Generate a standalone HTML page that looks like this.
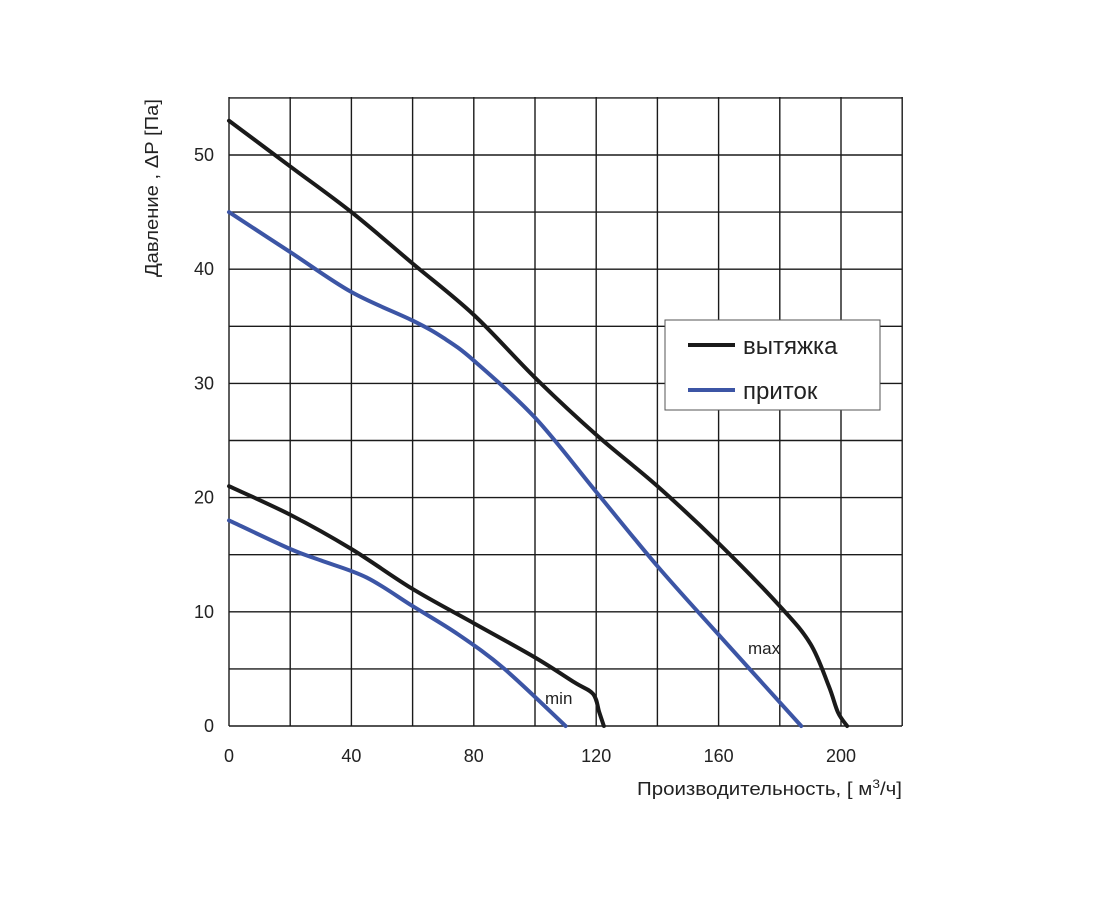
<!DOCTYPE html>
<html><head><meta charset="utf-8"><style>
html,body{margin:0;padding:0;background:#fff;}
svg text{font-family:"Liberation Sans",sans-serif;fill:#222;}
</style></head><body>
<svg id="s" width="1100" height="900" viewBox="0 0 1100 900" xmlns="http://www.w3.org/2000/svg">
<g id="grid" stroke="#1a1a1a" stroke-width="1.4" fill="none"></g>
<g id="curves" fill="none" stroke-width="4" stroke-linejoin="round" stroke-linecap="round"></g>
<g font-size="18" text-anchor="end" id="yl"></g>
<g font-size="18" text-anchor="middle" id="xl"></g>
<text x="0" y="0" font-size="18" transform="translate(158,188) rotate(-90)" text-anchor="middle" textLength="178" lengthAdjust="spacingAndGlyphs">Давление , ΔP [Па]</text>
<text x="637" y="795" font-size="18" textLength="265" lengthAdjust="spacingAndGlyphs">Производительность, [ м<tspan dy="-7" font-size="12">3</tspan><tspan dy="7">/ч]</tspan></text>
<text x="545" y="704" font-size="17">min</text>
<text x="748" y="654" font-size="17">max</text>
<rect x="665" y="320" width="215" height="90" fill="#fff" stroke="#555" stroke-width="1"/>
<line x1="688" y1="345" x2="735" y2="345" stroke="#1a1a1a" stroke-width="4"/>
<line x1="688" y1="390" x2="735" y2="390" stroke="#3c55a5" stroke-width="4"/>
<text x="743" y="354" font-size="24">вытяжка</text>
<text x="743" y="399" font-size="24">приток</text>
</svg>
<script>
var X=function(v){return 229+3.06*v},Y=function(p){return 726-11.42*p};
var g=document.getElementById('grid'),h='';
for(var i=0;i<=11;i++){var x=229+i*61.2;h+='<line x1="'+x+'" y1="97" x2="'+x+'" y2="726"/>';}
for(var j=0;j<=11;j++){var y=726-j*57.1;h+='<line x1="229" y1="'+y+'" x2="902" y2="'+y+'"/>';}
g.innerHTML=h;
var yl='';for(var k=0;k<=5;k++)yl+='<text x="214" y="'+(Y(k*10)+6)+'">'+(k*10)+'</text>';
document.getElementById('yl').innerHTML=yl;
var xl='';for(var k=0;k<=5;k++)xl+='<text x="'+X(k*40)+'" y="762">'+(k*40)+'</text>';
document.getElementById('xl').innerHTML=xl;
function path(pts){var p=pts.map(function(a){return[X(a[0]),Y(a[1])]});var d='M'+p[0][0]+','+p[0][1];
for(var i=0;i<p.length-1;i++){var p0=p[i-1]||p[i],p1=p[i],p2=p[i+1],p3=p[i+2]||p2;
d+=' C'+(p1[0]+(p2[0]-p0[0])/6)+','+(p1[1]+(p2[1]-p0[1])/6)+' '+(p2[0]-(p3[0]-p1[0])/6)+','+(p2[1]-(p3[1]-p1[1])/6)+' '+p2[0]+','+p2[1];}return d;}
var C=[["#1a1a1a",[[0,53],[20,49],[40,45],[60,40.5],[80,36],[100,30.5],[120,25.5],[140,21],[160,16],[180,10.5],[190,7.2],[196,3.5],[199,1.2],[202,0]]],
["#3c55a5",[[0,45],[20,41.5],[40,38],[60,35.5],[70,34],[80,32],[100,27],[120,20.5],[140,14],[160,8],[187,0]]],
["#1a1a1a",[[0,21],[20,18.5],[40,15.5],[60,12],[80,9],[100,6],[113,3.8],[119,2.8],[121,1.2],[122.5,0]]],
["#3c55a5",[[0,18],[20,15.5],[30,14.5],[45,13],[60,10.5],[75,8],[90,5],[110,0]]]];
var s='';C.forEach(function(c){s+='<path stroke="'+c[0]+'" d="'+path(c[1])+'"/>';});
document.getElementById('curves').innerHTML=s;
</script>
</body></html>
